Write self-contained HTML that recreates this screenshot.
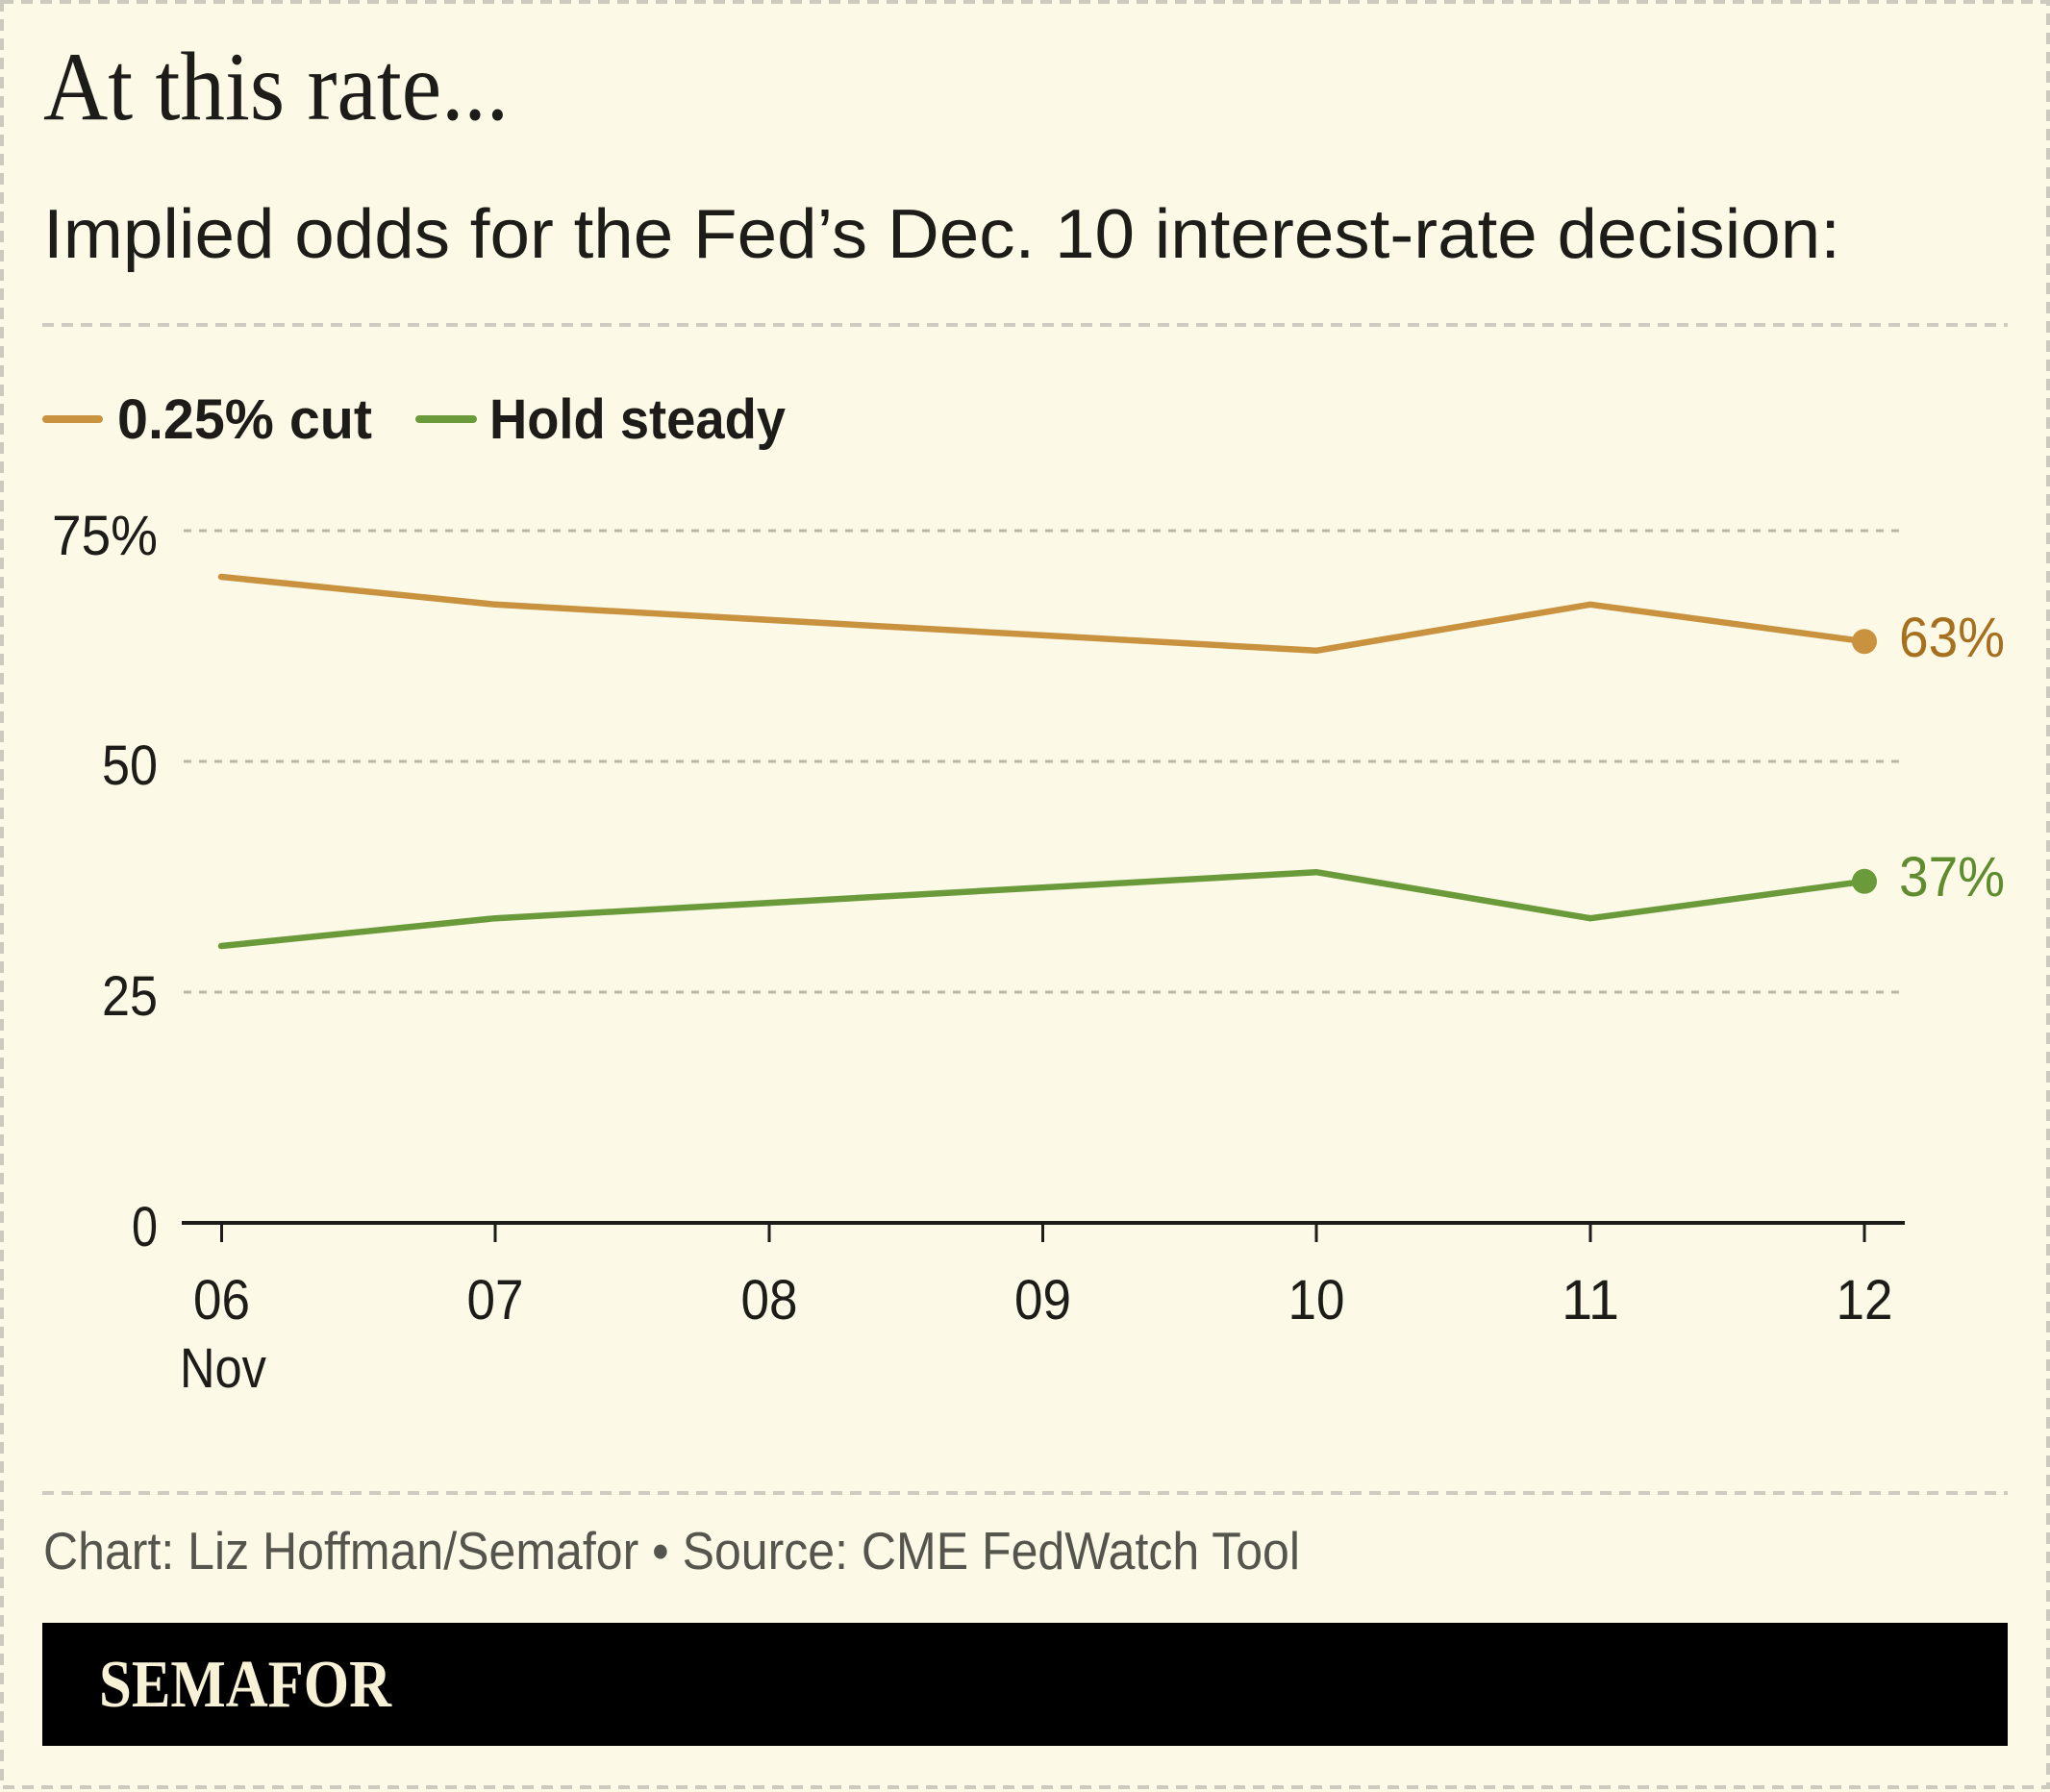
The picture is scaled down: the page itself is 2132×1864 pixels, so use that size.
<!DOCTYPE html>
<html>
<head>
<meta charset="utf-8">
<style>
  html, body { margin: 0; padding: 0; background: #fcf9e6; }
  body { width: 2132px; height: 1864px; overflow: hidden; }
  svg { display: block; }
</style>
</head>
<body>
<svg width="2132" height="1864" viewBox="0 0 2132 1864" xmlns="http://www.w3.org/2000/svg">
  <rect x="0" y="0" width="2132" height="1864" fill="#fcf9e6"/>
  <!-- outer dashed border -->
  <rect x="2" y="2" width="2128" height="1857" fill="none" stroke="#ccc9bd" stroke-width="4" stroke-dasharray="12 8"/>

  <!-- title -->
  <text x="45" y="124" font-family="'Liberation Serif', serif" font-size="102" fill="#1d1c18" textLength="484" lengthAdjust="spacingAndGlyphs">At this rate...</text>

  <!-- subtitle -->
  <text x="45" y="268" font-family="'Liberation Sans', sans-serif" font-size="72" fill="#1d1c18" textLength="1869" lengthAdjust="spacingAndGlyphs">Implied odds for the Fed’s Dec. 10 interest-rate decision:</text>

  <!-- top divider -->
  <line x1="44" y1="338" x2="2088" y2="338" stroke="#cfcbc0" stroke-width="4" stroke-dasharray="12 8"/>

  <!-- legend -->
  <line x1="48" y1="436" x2="103" y2="436" stroke="#c9923f" stroke-width="8" stroke-linecap="round"/>
  <text x="122" y="456" font-family="'Liberation Sans', sans-serif" font-weight="bold" font-size="58" fill="#1d1c18" textLength="265" lengthAdjust="spacingAndGlyphs">0.25% cut</text>
  <line x1="436" y1="436" x2="492" y2="436" stroke="#6a9a3a" stroke-width="8" stroke-linecap="round"/>
  <text x="509" y="456" font-family="'Liberation Sans', sans-serif" font-weight="bold" font-size="58" fill="#1d1c18" textLength="308" lengthAdjust="spacingAndGlyphs">Hold steady</text>

  <!-- gridlines -->
  <g stroke="#b8b6a6" stroke-width="3" stroke-dasharray="8 8">
    <line x1="191" y1="552" x2="1976" y2="552"/>
    <line x1="191" y1="792" x2="1976" y2="792"/>
    <line x1="191" y1="1032" x2="1976" y2="1032"/>
  </g>

  <!-- y labels -->
  <g font-family="'Liberation Sans', sans-serif" font-size="58" fill="#1d1c18">
    <text x="54" y="577" textLength="110" lengthAdjust="spacingAndGlyphs">75%</text>
    <text x="106" y="816" textLength="58" lengthAdjust="spacingAndGlyphs">50</text>
    <text x="106" y="1056" textLength="58" lengthAdjust="spacingAndGlyphs">25</text>
    <text x="137" y="1296" textLength="27" lengthAdjust="spacingAndGlyphs">0</text>
  </g>

  <!-- x axis -->
  <line x1="189" y1="1272" x2="1981" y2="1272" stroke="#1d1c18" stroke-width="4"/>
  <g stroke="#1d1c18" stroke-width="3">
    <line x1="230.5" y1="1272" x2="230.5" y2="1292"/>
    <line x1="515" y1="1272" x2="515" y2="1292"/>
    <line x1="800" y1="1272" x2="800" y2="1292"/>
    <line x1="1084.5" y1="1272" x2="1084.5" y2="1292"/>
    <line x1="1369" y1="1272" x2="1369" y2="1292"/>
    <line x1="1654" y1="1272" x2="1654" y2="1292"/>
    <line x1="1939" y1="1272" x2="1939" y2="1292"/>
  </g>
  <g font-family="'Liberation Sans', sans-serif" font-size="58" fill="#1d1c18">
    <text x="201" y="1372" textLength="59" lengthAdjust="spacingAndGlyphs">06</text>
    <text x="485.5" y="1372" textLength="59" lengthAdjust="spacingAndGlyphs">07</text>
    <text x="770.5" y="1372" textLength="59" lengthAdjust="spacingAndGlyphs">08</text>
    <text x="1055" y="1372" textLength="59" lengthAdjust="spacingAndGlyphs">09</text>
    <text x="1339.5" y="1372" textLength="59" lengthAdjust="spacingAndGlyphs">10</text>
    <text x="1624" y="1372" textLength="60" lengthAdjust="spacingAndGlyphs">11</text>
    <text x="1909.5" y="1372" textLength="59" lengthAdjust="spacingAndGlyphs">12</text>
    <text x="187" y="1443" textLength="90" lengthAdjust="spacingAndGlyphs">Nov</text>
  </g>

  <!-- series -->
  <polyline points="230,600 515,628.8 1369,676.8 1654,628.8 1939,667.2" fill="none" stroke="#c9923f" stroke-width="6.5" stroke-linejoin="round" stroke-linecap="round"/>
  <polyline points="230,984 515,955.2 1369,907.2 1654,955.2 1939,916.8" fill="none" stroke="#6a9a3a" stroke-width="6.5" stroke-linejoin="round" stroke-linecap="round"/>
  <circle cx="1939" cy="667.2" r="13" fill="#c9923f"/>
  <circle cx="1939" cy="916.8" r="13" fill="#6a9a3a"/>
  <text x="1975" y="683" font-family="'Liberation Sans', sans-serif" font-size="58" fill="#a6701f" textLength="110" lengthAdjust="spacingAndGlyphs">63%</text>
  <text x="1975" y="932" font-family="'Liberation Sans', sans-serif" font-size="58" fill="#5f8c2f" textLength="110" lengthAdjust="spacingAndGlyphs">37%</text>

  <!-- bottom divider -->
  <line x1="44" y1="1553" x2="2088" y2="1553" stroke="#cfcbc0" stroke-width="4" stroke-dasharray="12 8"/>

  <!-- footer -->
  <text x="45" y="1632" font-family="'Liberation Sans', sans-serif" font-size="55" fill="#56554d" textLength="1307" lengthAdjust="spacingAndGlyphs">Chart: Liz Hoffman/Semafor • Source: CME FedWatch Tool</text>

  <!-- black bar -->
  <rect x="44" y="1688" width="2044" height="128" fill="#000000"/>
  <text x="103" y="1775" font-family="'Liberation Serif', serif" font-weight="bold" font-size="70" fill="#f7f1d6" textLength="304" lengthAdjust="spacingAndGlyphs">SEMAFOR</text>
</svg>
</body>
</html>
